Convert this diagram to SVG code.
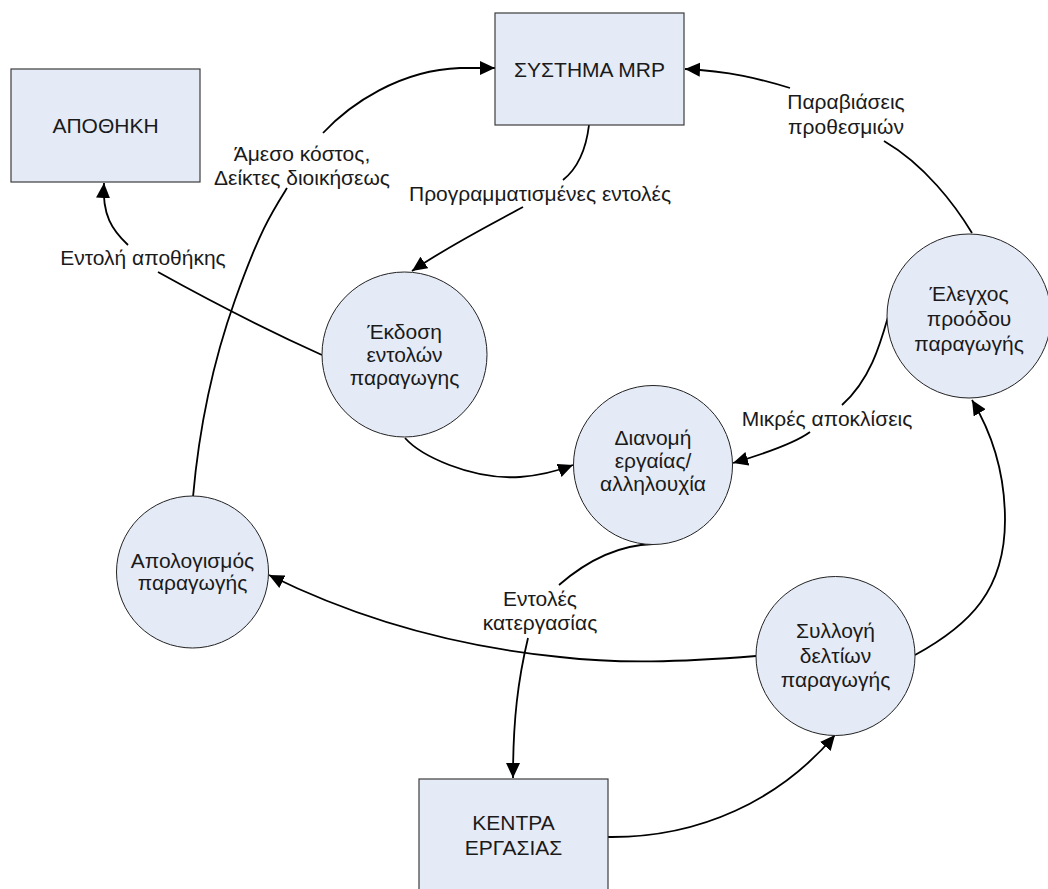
<svg xmlns="http://www.w3.org/2000/svg" width="1048" height="889" viewBox="0 0 1048 889">
<style>
.box{fill:#e5ebf6;stroke:#3c3c3c;stroke-width:1.2}
.proc{fill:#e5ebf6;stroke:#222;stroke-width:1}
.t{font-family:"Liberation Sans",Arial,sans-serif;font-size:21px;fill:#1a1a1a;text-anchor:middle}
.c{fill:none;stroke:#000;stroke-width:1.8}
</style>
<defs>
<marker id="ah" markerUnits="userSpaceOnUse" markerWidth="16" markerHeight="16" refX="15" refY="7" orient="auto">
<path d="M0,0 L15,7 L0,14 Z" fill="#000"/>
</marker>
</defs>
<rect width="1048" height="889" fill="#fff"/>
<g id="connectors">
<path class="c" d="M193,497 C198,440 210,370 235,300 S272,212 287,188"/>
<path class="c" d="M323,133 C350,104 400,70 460,68 L495,68" marker-end="url(#ah)"/>
<path class="c" d="M972,233 C955,205 925,165 884,141"/>
<path class="c" d="M790,88 C760,79 730,71 685,69" marker-end="url(#ah)"/>
<path class="c" d="M589,125 C586,150 578,168 563,180"/>
<path class="c" d="M523,207 C490,225 450,245 412,271" marker-end="url(#ah)"/>
<path class="c" d="M322,355 C280,336 230,312 158,272"/>
<path class="c" d="M128,245 C112,230 102,215 104,183" marker-end="url(#ah)"/>
<path class="c" d="M405,438 C420,455 470,480 520,477 C545,475 560,470 573,465" marker-end="url(#ah)"/>
<path class="c" d="M888,317 C880,345 870,380 842,405"/>
<path class="c" d="M810,432 C795,443 770,452 733,463" marker-end="url(#ah)"/>
<path class="c" d="M653,544 C620,545 590,558 559,585"/>
<path class="c" d="M528,638 C518,680 513,720 513,778" marker-end="url(#ah)"/>
<path class="c" d="M608,837 C700,838 780,800 835,735" marker-end="url(#ah)"/>
<path class="c" d="M756,656 C680,662 620,664 560,657 C470,648 370,625 269,575" marker-end="url(#ah)"/>
<path class="c" d="M915,655 C970,625 1005,590 1005,520 C1005,470 990,430 972,400" marker-end="url(#ah)"/>
</g>
<g id="labels">
<text class="t" x="302" y="161">Άμεσο κόστος,</text>
<text class="t" x="302" y="185">Δείκτες διοικήσεως</text>
<text class="t" x="540" y="201">Προγραμματισμένες εντολές</text>
<text class="t" x="143" y="265">Εντολή αποθήκης</text>
<text class="t" x="846" y="109">Παραβιάσεις</text>
<text class="t" x="846" y="134">προθεσμιών</text>
<text class="t" x="827" y="426">Μικρές αποκλίσεις</text>
<text class="t" x="540" y="606">Εντολές</text>
<text class="t" x="540" y="630">κατεργασίας</text>
</g>
<g id="apothiki">
<rect class="box" x="11" y="69" width="189" height="113"/>
<text class="t" x="105.5" y="133">ΑΠΟΘΗΚΗ</text>
</g>
<g id="mrp">
<rect class="box" x="495" y="13" width="189" height="112"/>
<text class="t" x="589.5" y="77">ΣΥΣΤΗΜΑ MRP</text>
</g>
<g id="kentra">
<rect class="box" x="419" y="779" width="189" height="114"/>
<text class="t" x="513.5" y="830">ΚΕΝΤΡΑ</text>
<text class="t" x="513.5" y="855">ΕΡΓΑΣΙΑΣ</text>
</g>
<g id="ekdosi">
<circle class="proc" cx="404.5" cy="354.5" r="82.5"/>
<text class="t" x="404.5" y="339">Έκδοση</text>
<text class="t" x="404.5" y="362">εντολών</text>
<text class="t" x="404.5" y="385">παραγωγης</text>
</g>
<g id="dianomi">
<circle class="proc" cx="653" cy="465" r="79.5"/>
<text class="t" x="653" y="445">Διανομή</text>
<text class="t" x="653" y="468">εργαίας/</text>
<text class="t" x="653" y="491">αλληλουχία</text>
</g>
<g id="elegxos">
<circle class="proc" cx="969" cy="316" r="82"/>
<text class="t" x="969" y="301">Έλεγχος</text>
<text class="t" x="969" y="326">προόδου</text>
<text class="t" x="969" y="351">παραγωγής</text>
</g>
<g id="apologismos">
<circle class="proc" cx="192.5" cy="572" r="76"/>
<text class="t" x="192.5" y="568">Απολογισμός</text>
<text class="t" x="192.5" y="590">παραγωγής</text>
</g>
<g id="syllogi">
<circle class="proc" cx="835.5" cy="656" r="79.5"/>
<text class="t" x="835.5" y="638">Συλλογή</text>
<text class="t" x="835.5" y="663">δελτίων</text>
<text class="t" x="835.5" y="687">παραγωγής</text>
</g>
</svg>
